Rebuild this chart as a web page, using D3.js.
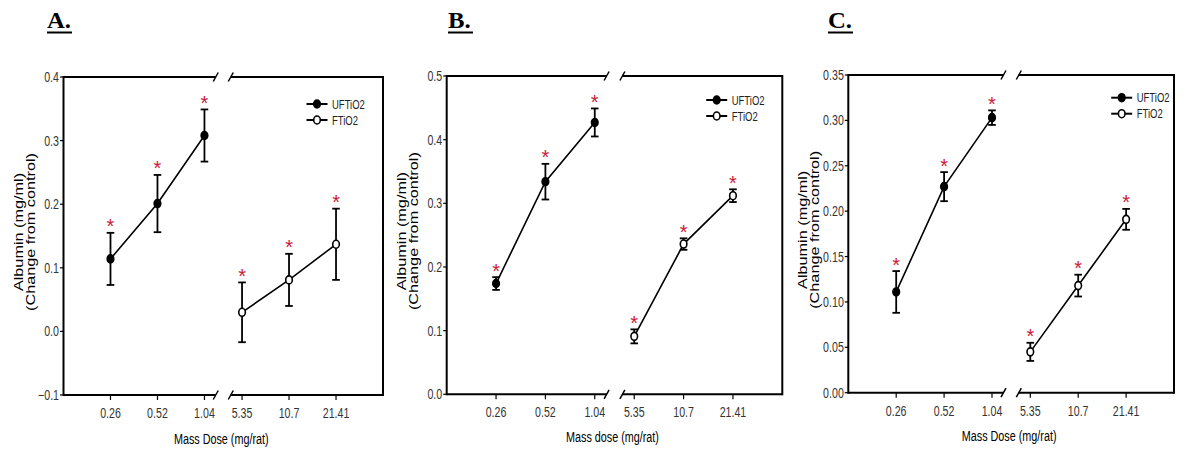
<!DOCTYPE html>
<html><head><meta charset="utf-8">
<script src="https://cdn.jsdelivr.net/npm/d3@7"></script>
<style>body{margin:0;background:#fff}svg{display:block}</style>
</head><body>
<svg id="chart" width="1200" height="459"></svg>
<script>
// ---- data ----
const dosesUF = [0.26, 0.52, 1.04];
const dosesF = [5.35, 10.7, 21.41];
const xTickLabels = ["0.26", "0.52", "1.04", "5.35", "10.7", "21.41"];
const seriesNames = ["UFTiO2", "FTiO2"];
const panelTitles = ["A.", "B.", "C."];
const xTitles = ["Mass Dose (mg/rat)", "Mass dose (mg/rat)", "Mass Dose (mg/rat)"];
const yTitle1 = "Albumin (mg/ml)";
const yTitle2 = "(Change from control)";

const ufA = [0.114, 0.201, 0.308];
const ufAErr = [0.041, 0.045, 0.041];
const fA = [0.030, 0.081, 0.137];
const fAErr = [0.047, 0.041, 0.056];

const ufB = [0.174, 0.334, 0.427];
const ufBErr = [0.010, 0.028, 0.022];
const fB = [0.091, 0.236, 0.312];
const fBErr = [0.011, 0.009, 0.010];

const ufC = [0.111, 0.227, 0.303];
const ufCErr = [0.023, 0.016, 0.008];
const fC = [0.045, 0.118, 0.191];
const fCErr = [0.010, 0.012, 0.0115];

const yTicksA = [-0.1, 0.0, 0.1, 0.2, 0.3, 0.4];
const yTicksB = [0.0, 0.1, 0.2, 0.3, 0.4, 0.5];
const yTicksC = [0.00, 0.05, 0.10, 0.15, 0.20, 0.25, 0.30, 0.35];

// ---- layout ----
const FONT = "'Liberation Sans', Arial, sans-serif";
const SX = 0.76;     // horizontal squeeze of the original figure text
const RED = "#c8203c";
const panels = [
  {L: 63.5, R: 383, T: 77, B: 395, yDom: [-0.1, 0.4], yTicks: yTicksA, fmt: ".1f",
   uf: ufA, ufErr: ufAErr, f: fA, fErr: fAErr, titleX: 47, legX: 66, legY: 27, xTitleDy: 49},
  {L: 446.7, R: 782.3, T: 76, B: 394.3, yDom: [0, 0.5], yTicks: yTicksB, fmt: ".1f",
   uf: ufB, ufErr: ufBErr, f: fB, fErr: fBErr, titleX: 448, legX: 65.6, legY: 24, xTitleDy: 48},
  {L: 848.3, R: 1174, T: 75, B: 392.7, yDom: [0, 0.35], yTicks: yTicksC, fmt: ".2f",
   uf: ufC, ufErr: ufCErr, f: fC, fErr: fCErr, titleX: 828, legX: 52.3, legY: 22.7, xTitleDy: 48}
];

const svg = d3.select("#chart");

function sText(g, x, y, str, o = {}) {
  return g.append("text")
    .attr("transform", `translate(${x},${y}) scale(${o.sx ?? SX},1)`)
    .attr("text-anchor", o.anchor || "start")
    .attr("font-family", o.family || FONT)
    .attr("font-size", o.size || 12)
    .attr("font-weight", o.weight || "normal")
    .attr("fill", o.fill || "#000")
    .text(str);
}

panels.forEach((p, pi) => {
  const g = svg.append("g");
  const s = (p.R - p.L) / 6.8;
  const xL = d3.scaleLog().domain([0.13, 1.04]).range([p.L, p.L + 3 * s]);
  const xR = d3.scaleLog().domain([5.35, 42.82]).range([p.R - 3 * s, p.R]);
  const y = d3.scaleLinear().domain(p.yDom).range([p.B, p.T]);
  const gapL = xL(1.04) + 0.24 * s;
  const gapR = xR(5.35) - 0.24 * s;

  // panel title
  sText(g, p.titleX, 28, panelTitles[pi], {sx: 1.03, family: "'Liberation Serif','Times New Roman',serif", size: 24, weight: "bold"});
  g.append("line").attr("x1", p.titleX).attr("x2", p.titleX + 25).attr("y1", 32.5).attr("y2", 32.5)
    .attr("stroke", "#000").attr("stroke-width", 2);

  // frame
  const fr = g.append("g").attr("stroke", "#000").attr("stroke-width", 2).attr("fill", "none");
  fr.append("line").attr("x1", p.L).attr("x2", p.L).attr("y1", p.T - 1).attr("y2", p.B + 1);
  fr.append("line").attr("x1", p.R).attr("x2", p.R).attr("y1", p.T - 1).attr("y2", p.B + 1);
  [p.T, p.B].forEach(yy => {
    fr.append("line").attr("x1", p.L).attr("x2", gapL).attr("y1", yy).attr("y2", yy);
    fr.append("line").attr("x1", gapR).attr("x2", p.R).attr("y1", yy).attr("y2", yy);
    [gapL, gapR].forEach(xx => {
      fr.append("line").attr("x1", xx - 2.5).attr("y1", yy + 4.5).attr("x2", xx + 2.5).attr("y2", yy - 4.5)
        .attr("stroke-width", 1.5);
    });
  });

  // y ticks
  p.yTicks.forEach(t => {
    g.append("line").attr("x1", p.L - 3.5).attr("x2", p.L).attr("y1", y(t)).attr("y2", y(t))
      .attr("stroke", "#000").attr("stroke-width", 1.2);
    sText(g, p.L - 4.5, y(t) + 5, d3.format(p.fmt)(t), {anchor: "end", size: 14, fill: "#333"});
  });

  // x ticks
  const allDoses = dosesUF.concat(dosesF);
  allDoses.forEach((d, i) => {
    const xx = i < 3 ? xL(d) : xR(d);
    g.append("line").attr("x1", xx).attr("x2", xx).attr("y1", p.B).attr("y2", p.B + 5)
      .attr("stroke", "#000").attr("stroke-width", 1.2);
    sText(g, xx, p.B + 23, xTickLabels[i], {anchor: "middle", size: 14, fill: "#333"});
  });

  // axis titles
  sText(g, (p.L + p.R) / 2 - 2, p.B + p.xTitleDy, xTitles[pi], {anchor: "middle", size: 15, sx: 0.72});
  const cy = (p.T + p.B) / 2 - 4;
  [[yTitle1, p.L - 41], [yTitle2, p.L - 29]].forEach(([txt, bx]) => {
    g.append("text")
      .attr("transform", `translate(${bx},${cy}) rotate(-90) scale(1.25,1)`)
      .attr("text-anchor", "middle").attr("font-family", FONT).attr("font-size", 13)
      .attr("fill", "#000").text(txt);
  });

  // series
  const series = [
    {x: xL, doses: dosesUF, vals: p.uf, err: p.ufErr, fill: "#000"},
    {x: xR, doses: dosesF, vals: p.f, err: p.fErr, fill: "#fff"}
  ];
  series.forEach(sr => {
    const pts = sr.doses.map((d, i) => ({d, v: sr.vals[i], e: sr.err[i]}));
    g.append("path").datum(pts)
      .attr("d", d3.line().x(q => sr.x(q.d)).y(q => y(q.v)))
      .attr("fill", "none").attr("stroke", "#000").attr("stroke-width", 1.6);
    const eb = g.append("g").attr("stroke", "#000").attr("stroke-width", 1.8);
    pts.forEach(q => {
      const xx = sr.x(q.d);
      eb.append("line").attr("x1", xx).attr("x2", xx).attr("y1", y(q.v + q.e)).attr("y2", y(q.v - q.e));
      [q.v + q.e, q.v - q.e].forEach(vv => {
        eb.append("line").attr("x1", xx - 3.8).attr("x2", xx + 3.8).attr("y1", y(vv)).attr("y2", y(vv));
      });
    });
    g.selectAll(null).data(pts).enter().append("ellipse")
      .attr("cx", q => sr.x(q.d)).attr("cy", q => y(q.v))
      .attr("rx", 3.3).attr("ry", 4)
      .attr("fill", sr.fill).attr("stroke", "#000").attr("stroke-width", 1.6);
    // significance stars
    pts.forEach(q => {
      g.append("text")
        .attr("transform", `translate(${sr.x(q.d)},${y(q.v + q.e) + 0.5}) scale(1,1)`)
        .attr("text-anchor", "middle").attr("font-family", FONT).attr("font-size", 20)
        .attr("fill", RED).text("*");
    });
  });

  // legend
  const lx = p.R - p.legX;
  [0, 1].forEach(k => {
    const ly = p.T + p.legY + k * 16;
    g.append("line").attr("x1", lx - 10.5).attr("x2", lx + 10.5).attr("y1", ly).attr("y2", ly)
      .attr("stroke", "#000").attr("stroke-width", 2);
    g.append("ellipse").attr("cx", lx).attr("cy", ly).attr("rx", 3.3).attr("ry", 4)
      .attr("fill", k === 0 ? "#000" : "#fff").attr("stroke", "#000").attr("stroke-width", 1.6);
    sText(g, lx + 15, ly + 4.5, seriesNames[k], {size: 12.5, fill: "#222"});
  });
});
</script>
</body></html>
